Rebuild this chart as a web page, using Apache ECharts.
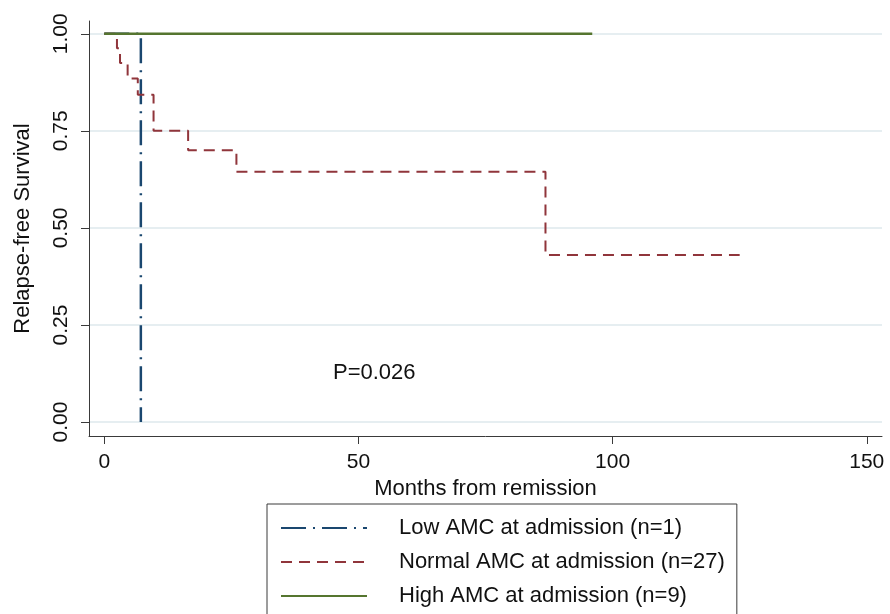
<!DOCTYPE html>
<html>
<head>
<meta charset="utf-8">
<script src="https://cdn.jsdelivr.net/npm/echarts@6/dist/echarts.min.js"></script>
<style>
  html, body { margin: 0; padding: 0; background: #fff; }
  #chart { width: 890px; height: 614px; }
</style>
</head>
<body>
<div id="chart"></div>
<script>
// Kaplan-Meier steps, [months, survival]
var lowAmc = [[0, 1], [7.2, 0]];
var normalAmc = [[0, 1], [2.5, 0.963], [3.1, 0.925], [4.6, 0.885], [6.6, 0.843], [9.7, 0.75], [16.5, 0.70], [26.0, 0.645], [86.8, 0.43], [125, 0.43]];
var highAmc = [[0, 1], [96, 1]];
var xTicks = [0, 50, 100, 150];
var yTicks = [0, 0.25, 0.5, 0.75, 1];
var seriesNames = ['Low AMC at admission (n=1)', 'Normal AMC at admission (n=27)', 'High AMC at admission (n=9)'];

var chart = echarts.init(document.getElementById('chart'));
var font = 'Liberation Sans, Arial, sans-serif';
var axisLine = { color: '#3a3a3a', width: 1 };

var option = {
  animation: false,
  grid: {
    left: 89,
    right: 8,
    top: 21,
    bottom: 178
  },
  xAxis: {
    type: 'value',
    min: -3,
    max: 153,
    name: 'Months from remission',
    nameLocation: 'middle',
    nameGap: 40,
    nameTextStyle: { fontFamily: font, fontSize: 22, color: '#111' },
    axisLine: { onZero: false, lineStyle: axisLine },
    axisTick: { show: true, length: 8, lineStyle: axisLine, customValues: xTicks },
    axisLabel: { fontFamily: font, fontSize: 21, color: '#111', margin: 16, customValues: xTicks },
    splitLine: { show: false }
  },
  yAxis: {
    type: 'value',
    min: -0.036,
    max: 1.033,
    name: 'Relapse-free Survival',
    nameLocation: 'middle',
    nameGap: 55,
    nameTextStyle: { fontFamily: font, fontSize: 22, color: '#111' },
    axisLine: { show: true, onZero: false, lineStyle: axisLine },
    axisTick: { show: true, length: 8, lineStyle: axisLine, customValues: yTicks },
    axisLabel: {
      fontFamily: font, fontSize: 21, color: '#111', margin: 17, rotate: 90,
      customValues: yTicks,
      formatter: function (v) { return v.toFixed(2); }
    },
    splitLine: { show: true, lineStyle: { color: '#e6eef1', width: 2 } }
  },
  legend: {
    orient: 'vertical',
    left: 267,
    top: 504,
    height: 130,
    padding: [13, 12, 14, 13],
    itemGap: 12,
    itemWidth: 86,
    itemHeight: 22,
    borderColor: '#3a3a3a',
    borderWidth: 1,
    borderRadius: 0,
    itemStyle: { opacity: 0 },
    textStyle: { fontFamily: font, fontSize: 22, color: '#111', padding: [0, 0, 0, 27] },
    data: seriesNames
  },
  graphic: [{
    type: 'text',
    left: 333,
    top: 362,
    style: { text: 'P=0.026', fontFamily: font, fontSize: 22, fill: '#111' }
  }],
  series: [{
    name: seriesNames[0],
    type: 'line',
    step: 'end',
    symbol: 'none',
    data: lowAmc,
    color: '#1a476f',
    lineStyle: { color: '#1a476f', width: 2.5, type: [25, 7, 2, 7] }
  }, {
    name: seriesNames[1],
    type: 'line',
    step: 'end',
    symbol: 'none',
    data: normalAmc,
    color: '#90353b',
    lineStyle: { color: '#90353b', width: 2, type: [11, 7] }
  }, {
    name: seriesNames[2],
    type: 'line',
    step: 'end',
    symbol: 'none',
    data: highAmc,
    color: '#55752f',
    lineStyle: { color: '#55752f', width: 2.5 }
  }]
};
chart.setOption(option);
</script>
</body>
</html>
